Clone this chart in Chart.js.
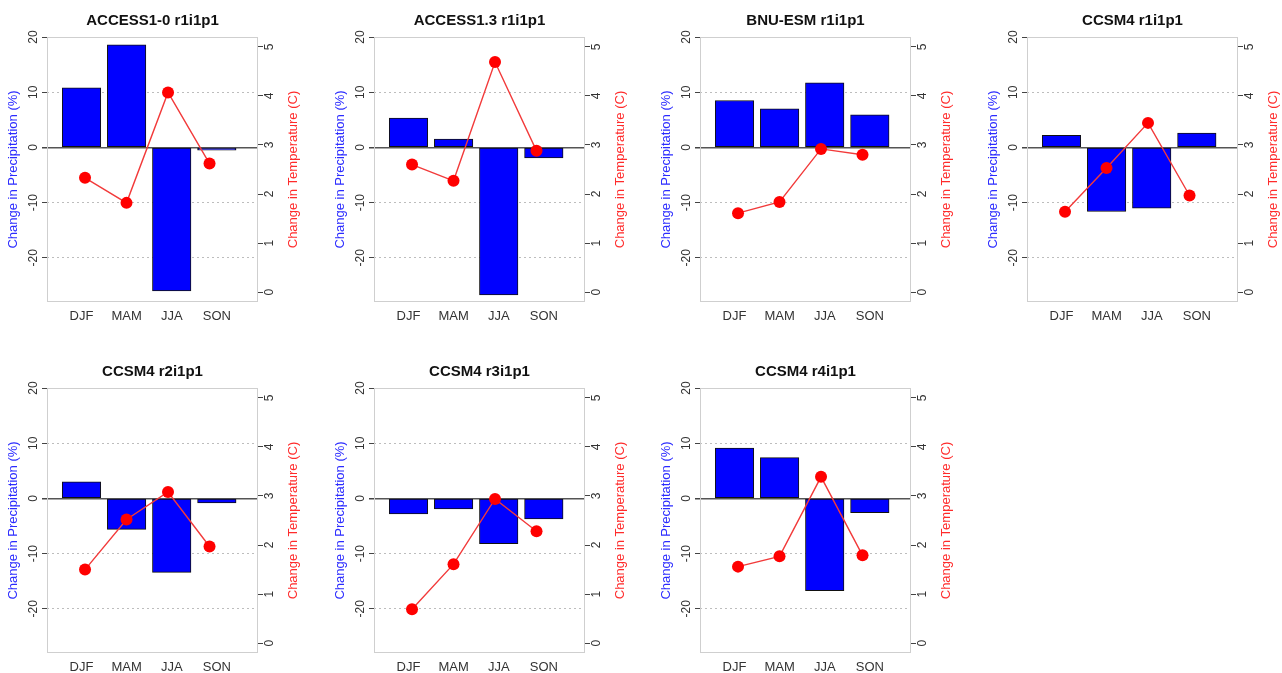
<!DOCTYPE html>
<html lang="en">
<head>
<meta charset="UTF-8">
<title>Seasonal change in precipitation and temperature</title>
<style>
  html, body { margin: 0; padding: 0; background: #fff; overflow: hidden; }
  body { width: 1282px; height: 673px; position: relative; }
  canvas { position: absolute; }
</style>
</head>
<body>
<script src="https://cdn.jsdelivr.net/npm/chart.js"></script>
<script>
// seasons on the x axis
const seasons = ['DJF', 'MAM', 'JJA', 'SON'];

// one panel per model run
const runs = ['ACCESS1-0 r1i1p1', 'ACCESS1.3 r1i1p1', 'BNU-ESM r1i1p1', 'CCSM4 r1i1p1',
              'CCSM4 r2i1p1', 'CCSM4 r3i1p1', 'CCSM4 r4i1p1'];

// change in precipitation (%), DJF..SON
const precipAccess10 = [10.8, 18.6, -26.0, -0.5];
const precipAccess13 = [5.3, 1.5, -26.7, -1.9];
const precipBnu      = [8.5, 7.0, 11.7, 5.9];
const precipCcsmR1   = [2.2, -11.6, -11.0, 2.6];
const precipCcsmR2   = [3.0, -5.6, -13.4, -0.8];
const precipCcsmR3   = [-2.8, -1.9, -8.2, -3.7];
const precipCcsmR4   = [9.1, 7.4, -16.7, -2.6];

// change in temperature (C), DJF..SON
const tempAccess10 = [2.33, 1.82, 4.07, 2.62];
const tempAccess13 = [2.60, 2.27, 4.69, 2.88];
const tempBnu      = [1.61, 1.84, 2.92, 2.80];
const tempCcsmR1   = [1.64, 2.53, 3.45, 1.97];
const tempCcsmR2   = [1.50, 2.52, 3.08, 1.97];
const tempCcsmR3   = [0.69, 1.61, 2.94, 2.28];
const tempCcsmR4   = [1.56, 1.77, 3.39, 1.79];

// axis ticks
const precipTicks = [-20, -10, 0, 10, 20];
const tempTicks = [0, 1, 2, 3, 4, 5];

const precip = [precipAccess10, precipAccess13, precipBnu, precipCcsmR1, precipCcsmR2, precipCcsmR3, precipCcsmR4];
const temp = [tempAccess10, tempAccess13, tempBnu, tempCcsmR1, tempCcsmR2, tempCcsmR3, tempCcsmR4];

const W = 305, H = 335;
const panelLeft = [0, 327, 653, 980];
const panelTop = [0, 351];
const family = 'Arial, "Liberation Sans", sans-serif';

// light grey frame round the plot and the right axis title (reads bottom to top)
const framePlugin = {
    id: 'frame',
    beforeDatasetsDraw(chart) {
        const {ctx, chartArea: a} = chart;
        ctx.save();
        ctx.strokeStyle = '#cfcfcf';
        ctx.lineWidth = 1;
        ctx.strokeRect(a.left + 0.5, a.top + 0.5, a.width - 1, a.height - 1);
        ctx.restore();
    },
    afterDraw(chart) {
        const {ctx, chartArea: a} = chart;
        ctx.save();
        ctx.translate(a.right + 35, (a.top + a.bottom) / 2);
        ctx.rotate(-Math.PI / 2);
        ctx.font = '13px ' + family;
        ctx.fillStyle = '#ff2b2b';
        ctx.textAlign = 'center';
        ctx.textBaseline = 'middle';
        ctx.fillText('Change in Temperature (C)', 0, 0);
        ctx.restore();
    }
};

function makePanel(i) {
    const canvas = document.createElement('canvas');
    canvas.width = W;
    canvas.height = H;
    canvas.style.left = panelLeft[i % 4] + 'px';
    canvas.style.top = panelTop[Math.floor(i / 4)] + 'px';
    document.body.appendChild(canvas);

    new Chart(canvas, {
        type: 'bar',
        data: {
            datasets: [
                {
                    type: 'line',
                    data: seasons.map((s, j) => ({x: j + 1, y: temp[i][j]})),
                    xAxisID: 'xt',
                    yAxisID: 'yt',
                    order: 0,
                    borderColor: '#f23a3a',
                    borderWidth: 1.4,
                    pointRadius: 6,
                    pointBackgroundColor: '#ff0000',
                    pointBorderWidth: 0
                },
                {
                    type: 'bar',
                    data: seasons.map((s, j) => ({x: j + 1, y: precip[i][j]})),
                    xAxisID: 'x',
                    yAxisID: 'y',
                    order: 1,
                    grouped: false,
                    backgroundColor: '#0000ff',
                    borderColor: '#111',
                    borderWidth: 1,
                    borderSkipped: false,
                    barThickness: 38.5
                }
            ]
        },
        options: {
            responsive: false,
            animation: false,
            events: [],
            layout: { padding: 0 },
            plugins: {
                legend: { display: false },
                tooltip: { enabled: false },
                title: {
                    display: true,
                    text: runs[i],
                    color: '#111',
                    font: { family: family, size: 15, weight: 'bold' },
                    padding: { top: 12, bottom: 7 }
                }
            },
            scales: {
                x: {
                    type: 'linear',
                    position: 'bottom',
                    offset: false,
                    min: 0.235,
                    max: 4.913,
                    afterBuildTicks: s => { s.ticks = seasons.map((_, j) => ({ value: j + 1 })); },
                    ticks: {
                        callback: v => seasons[v - 1],
                        color: '#333',
                        font: { family: family, size: 13 },
                        padding: 7,
                        autoSkip: false,
                        maxRotation: 0
                    },
                    grid: { display: false, drawTicks: false, offset: false },
                    border: { display: false },
                    afterFit: s => { s.height = 33; }
                },
                xt: {
                    type: 'linear',
                    display: false,
                    offset: false,
                    min: 0.084,
                    max: 5.168,
                    grid: { offset: false }
                },
                y: {
                    position: 'left',
                    min: -28,
                    max: 20,
                    afterBuildTicks: s => { s.ticks = precipTicks.map(v => ({ value: v })); },
                    ticks: {
                        minRotation: 90,
                        maxRotation: 90,
                        crossAlign: 'center',
                        padding: 0,
                        color: '#333',
                        font: { family: family, size: 12 }
                    },
                    grid: {
                        color: c => c.tick && c.tick.value === 0 ? '#555' : '#bdbdbd',
                        lineWidth: c => c.tick && c.tick.value === 0 ? 1.5 : 1,
                        tickColor: '#444',
                        tickLength: 5,
                        tickBorderDash: []
                    },
                    border: {
                        display: false,
                        dash: c => c.tick && c.tick.value === 0 ? [] : [2, 3]
                    },
                    title: {
                        display: true,
                        text: 'Change in Precipitation (%)',
                        color: '#2b2bff',
                        font: { family: family, size: 13 },
                        padding: { top: 6, bottom: 0 }
                    },
                    afterFit: s => { s.width = 47; }
                },
                yt: {
                    position: 'right',
                    min: -0.2,
                    max: 5.2,
                    afterBuildTicks: s => { s.ticks = tempTicks.map(v => ({ value: v })); },
                    ticks: {
                        minRotation: 90,
                        maxRotation: 90,
                        crossAlign: 'center',
                        padding: 3,
                        color: '#333',
                        font: { family: family, size: 12 }
                    },
                    grid: {
                        drawOnChartArea: false,
                        tickColor: '#444',
                        tickLength: 5
                    },
                    border: { display: false },
                    afterFit: s => { s.width = W - 258; }
                }
            }
        },
        plugins: [framePlugin]
    });
}

runs.forEach((r, i) => makePanel(i));
</script>
</body>
</html>
